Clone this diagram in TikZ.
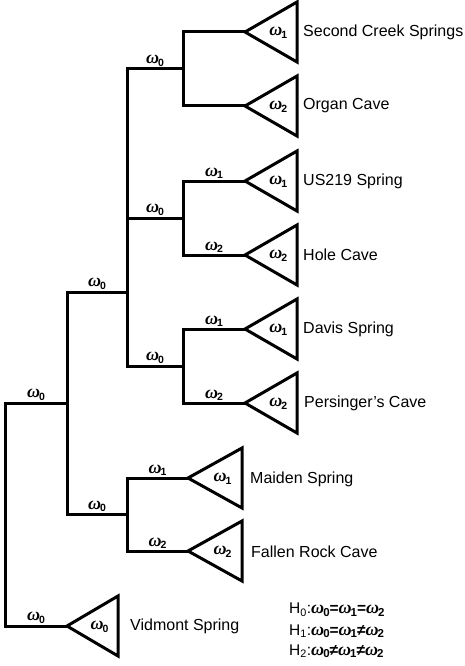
\documentclass[tikz,border=0pt]{standalone}
\usepackage{fontspec}
\setmainfont{Liberation Sans}
\newfontfamily\omf{Liberation Serif}
\newcommand{\om}[1]{{\fontsize{18}{18}\selectfont\omf\bfseries\itshape ω}\kern-1pt\raisebox{-2.5pt}{\fontsize{10.5}{10}\selectfont\bfseries #1}}
\newcommand{\hypom}[1]{{\fontsize{18}{18}\selectfont\omf\bfseries\itshape ω}\kern-1pt\raisebox{-2.5pt}{\fontsize{11.5}{10}\selectfont\bfseries #1}}
\begin{document}
\begin{tikzpicture}[x=1pt,y=-1pt,
  branch/.style={line width=3pt, line join=miter},
  tri/.style={line width=3pt, line join=miter},
  blab/.style={inner sep=1pt, above},
  tlab/.style={inner sep=0pt},
  leaf/.style={anchor=west, font=\fontsize{16}{18}\selectfont, inner sep=0pt},
  hyp/.style={anchor=west, font=\fontsize{15.5}{16}\selectfont, inner sep=0pt}]
\useasboundingbox (0,0) rectangle (465,666);
% junctions
\coordinate (jR) at (5,514.5);
\coordinate (jA) at (67,403);
\coordinate (jB) at (127,292);
\coordinate (jC1) at (183,69);
\coordinate (jC2) at (183,218);
\coordinate (jC3) at (183,366);
\coordinate (jD) at (127,514.5);
% leaf apices
\coordinate (L1) at (245,32);
\coordinate (L2) at (245,106);
\coordinate (L3) at (245,181);
\coordinate (L4) at (245,255);
\coordinate (L5) at (245,329);
\coordinate (L6) at (245,403);
\coordinate (L7) at (188,478);
\coordinate (L8) at (188,551);
\coordinate (L9) at (67,626);
% tree
\draw[branch] (jR) |- (jA) node[blab,pos=0.75] {\om{0}};
\draw[branch] (jR) |- (L9) node[blab,pos=0.75] {\om{0}};
\draw[branch] (jA) |- (jB) node[blab,pos=0.75] {\om{0}};
\draw[branch] (jA) |- (jD) node[blab,pos=0.75] {\om{0}};
\draw[branch] (jB) |- (jC1) node[blab,pos=0.75] {\om{0}};
\draw[branch] (jB) |- (jC2) node[blab,pos=0.75] {\om{0}};
\draw[branch] (jB) |- (jC3) node[blab,pos=0.75] {\om{0}};
\draw[branch] (jC1) |- (L1);
\draw[branch] (jC1) |- (L2);
\draw[branch] (jC2) |- (L3) node[blab,pos=0.75] {\om{1}};
\draw[branch] (jC2) |- (L4) node[blab,pos=0.75] {\om{2}};
\draw[branch] (jC3) |- (L5) node[blab,pos=0.75] {\om{1}};
\draw[branch] (jC3) |- (L6) node[blab,pos=0.75] {\om{2}};
\draw[branch] (jD) |- (L7) node[blab,pos=0.75] {\om{1}};
\draw[branch] (jD) |- (L8) node[blab,pos=0.75] {\om{2}};
% triangles
\foreach \L/\w/\s in {L1/52/1,L2/52/2,L3/52/1,L4/52/2,L5/52/1,L6/52/2,L7/54/1,L8/54/2,L9/51/0}{
  \draw[tri] (\L) -- ++(\w,-30) -- ++(0,60) -- cycle;
  \path (\L) ++(\w*0.64,1) node[tlab] (t\L) {\om{\s}};
}
% leaf names
\node[leaf] (n1) at (303,32) {Second Creek Springs};
\node[leaf] (n2) at (303,106) {Organ Cave};
\node[leaf] (n3) at (303,181) {US219 Spring};
\node[leaf] (n4) at (303,255) {Hole Cave};
\node[leaf] (n5) at (303,329) {Davis Spring};
\node[leaf] (n6) at (304,403) {Persinger’s Cave};
\node[leaf] (n7) at (250,479) {Maiden Spring};
\node[leaf] (n8) at (251,552) {Fallen Rock Cave};
\node[leaf] (n9) at (130,626) {Vidmont Spring};
% hypotheses
\node[hyp] (h0) at (289,610) {H\textsubscript{0}:\hypom{0}\textbf{=}\hypom{1}\textbf{=}\hypom{2}};
\node[hyp] (h1) at (289,631) {H\textsubscript{1}:\hypom{0}\textbf{=}\hypom{1}\textbf{≠}\hypom{2}};
\node[hyp] (h2) at (289,651) {H\textsubscript{2}:\hypom{0}\textbf{≠}\hypom{1}\textbf{≠}\hypom{2}};
\end{tikzpicture}
\end{document}
